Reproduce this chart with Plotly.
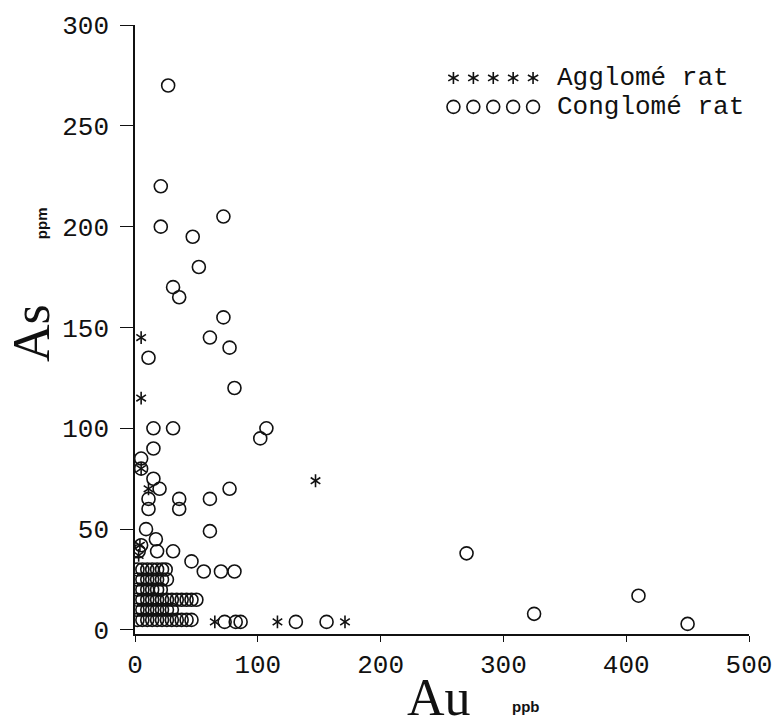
import math
import plotly.graph_objects as go

# Conglomérat samples: Au (ppb) vs As (ppm)
cong_au = [27, 21, 72, 21, 47, 52, 31, 36, 72, 61, 77, 11, 81, 15, 31, 102, 107,
           15, 5, 5, 15, 20, 77, 11, 36, 61, 11, 36, 9, 61, 17, 5, 3, 18, 31, 46,
           56, 70, 81,
           2, 6, 10, 14, 18, 22, 25,
           2, 6, 10, 14, 18, 22, 26,
           2, 6, 10, 14, 18, 21,
           2, 6, 10, 14, 18, 22, 26, 30, 34, 38, 42, 46, 50,
           2, 6, 10, 14, 18, 22, 26, 30,
           2, 6, 10, 14, 18, 22, 26, 30, 34, 38, 42, 46,
           73, 82, 86, 131, 156, 270, 325, 410, 450]
cong_as = [270, 220, 205, 200, 195, 180, 170, 165, 155, 145, 140, 135, 120, 100, 100, 95, 100,
           90, 85, 80, 75, 70, 70, 65, 65, 65, 60, 60, 50, 49, 45, 42, 39, 39, 39, 34,
           29, 29, 29,
           30, 30, 30, 30, 30, 30, 30,
           25, 25, 25, 25, 25, 25, 25,
           20, 20, 20, 20, 20, 20,
           15, 15, 15, 15, 15, 15, 15, 15, 15, 15, 15, 15, 15,
           10, 10, 10, 10, 10, 10, 10, 10,
           5, 5, 5, 5, 5, 5, 5, 5, 5, 5, 5, 5,
           4, 4, 4, 4, 4, 38, 8, 17, 3]

# Agglomérat samples
aggl_au = [5, 5, 5, 11, 147, 4, 3, 65, 116, 171]
aggl_as = [145, 115, 80, 70, 74, 42, 37, 4, 4, 4]

x_ticks = [0, 100, 200, 300, 400, 500]
y_ticks = [0, 50, 100, 150, 200, 250, 300]

MONO = "Liberation Mono, Courier New, monospace"
SERIF = "Liberation Serif, Times New Roman, serif"
SANS = "Liberation Sans, Arial, sans-serif"
INK = "#111111"

W, H = 784, 728
L, R, T, B = 135, 32, 24, 94
pw, ph = W - L - R, H - T - B


def px_x(px):
    return (px - L) / pw


def px_y(py):
    return 1 - (py - T) / ph


fig = go.Figure()

fig.add_trace(go.Scatter(
    x=cong_au, y=cong_as, mode="markers", name="Conglomérat",
    marker=dict(symbol="circle-open", size=13, color=INK, line=dict(width=1.6, color=INK)),
    showlegend=False,
))
# six-armed asterisk built from two Y symbols
for sym in ("y-up-open", "y-down-open"):
    fig.add_trace(go.Scatter(
        x=aggl_au, y=aggl_as, mode="markers", name="Agglomérat",
        marker=dict(symbol=sym, size=8, color=INK, line=dict(width=1.6, color=INK)),
        showlegend=False,
    ))

fig.update_xaxes(
    range=[0, 500], tickvals=x_ticks, ticktext=[str(v) for v in x_ticks],
    showgrid=False, zeroline=False, showline=True, linecolor=INK, linewidth=1.6,
    ticks="outside", ticklen=6, tickwidth=1.4, tickcolor=INK,
    tickfont=dict(family=MONO, size=26, color=INK), ticklabelstandoff=0,
)
fig.update_yaxes(
    range=[-2, 300], tickvals=y_ticks, ticktext=[str(v) for v in y_ticks],
    showgrid=False, zeroline=False, showline=True, linecolor=INK, linewidth=1.6,
    ticks="outside", ticklen=13, tickwidth=1.4, tickcolor=INK,
    tickfont=dict(family=MONO, size=26, color=INK), ticklabelstandoff=6,
)

# key: five symbols per row drawn as shapes, labels as text
key_rows = [("asterisk", "Agglomé rat", 77), ("circle", "Conglomé rat", 106)]
key_x0, key_pitch = 455, 20
shapes = []
for kind, label, yc in key_rows:
    for i in range(5):
        cx = key_x0 + i * key_pitch
        if kind == "circle":
            r = 6.5
            shapes.append(dict(type="circle", xref="paper", yref="paper",
                               x0=px_x(cx - r), x1=px_x(cx + r),
                               y0=px_y(yc + r), y1=px_y(yc - r),
                               line=dict(color=INK, width=1.6)))
        else:
            r = 6
            path = ""
            for ang in (90, 30, 150):
                dx = r * math.cos(math.radians(ang))
                dy = r * math.sin(math.radians(ang))
                path += "M{:.4f},{:.4f} L{:.4f},{:.4f} ".format(
                    px_x(cx - dx), px_y(yc + dy), px_x(cx + dx), px_y(yc - dy))
            shapes.append(dict(type="path", xref="paper", yref="paper", path=path.strip(),
                               line=dict(color=INK, width=1.6)))

annotations = [
    # axis titles
    dict(text="As", x=31, y=333, textangle=-90,
         font=dict(family=SERIF, size=52, color=INK)),
    dict(text="<b>ppm</b>", x=41, y=222, textangle=-90,
         font=dict(family=SANS, size=15, color=INK)),
    dict(text="Au", x=440, y=698,
         font=dict(family=SERIF, size=52, color=INK)),
    dict(text="<b>ppb</b>", x=528, y=707,
         font=dict(family=SANS, size=15, color=INK)),
]
for kind, label, yc in key_rows:
    annotations.append(dict(text=label, x=557, y=yc, xanchor="left",
                            font=dict(family=MONO, size=26, color=INK)))

for a in annotations:
    a["xref"] = "paper"
    a["yref"] = "paper"
    a["x"] = px_x(a["x"])
    a["y"] = px_y(a["y"])
    a["showarrow"] = False
    a.setdefault("xanchor", "center")
    a["yanchor"] = "middle"

fig.update_layout(
    width=W, height=H,
    margin=dict(l=L, r=R, t=T, b=B),
    paper_bgcolor="white", plot_bgcolor="white",
    annotations=annotations, shapes=shapes,
)

fig.write_html("out.html")
